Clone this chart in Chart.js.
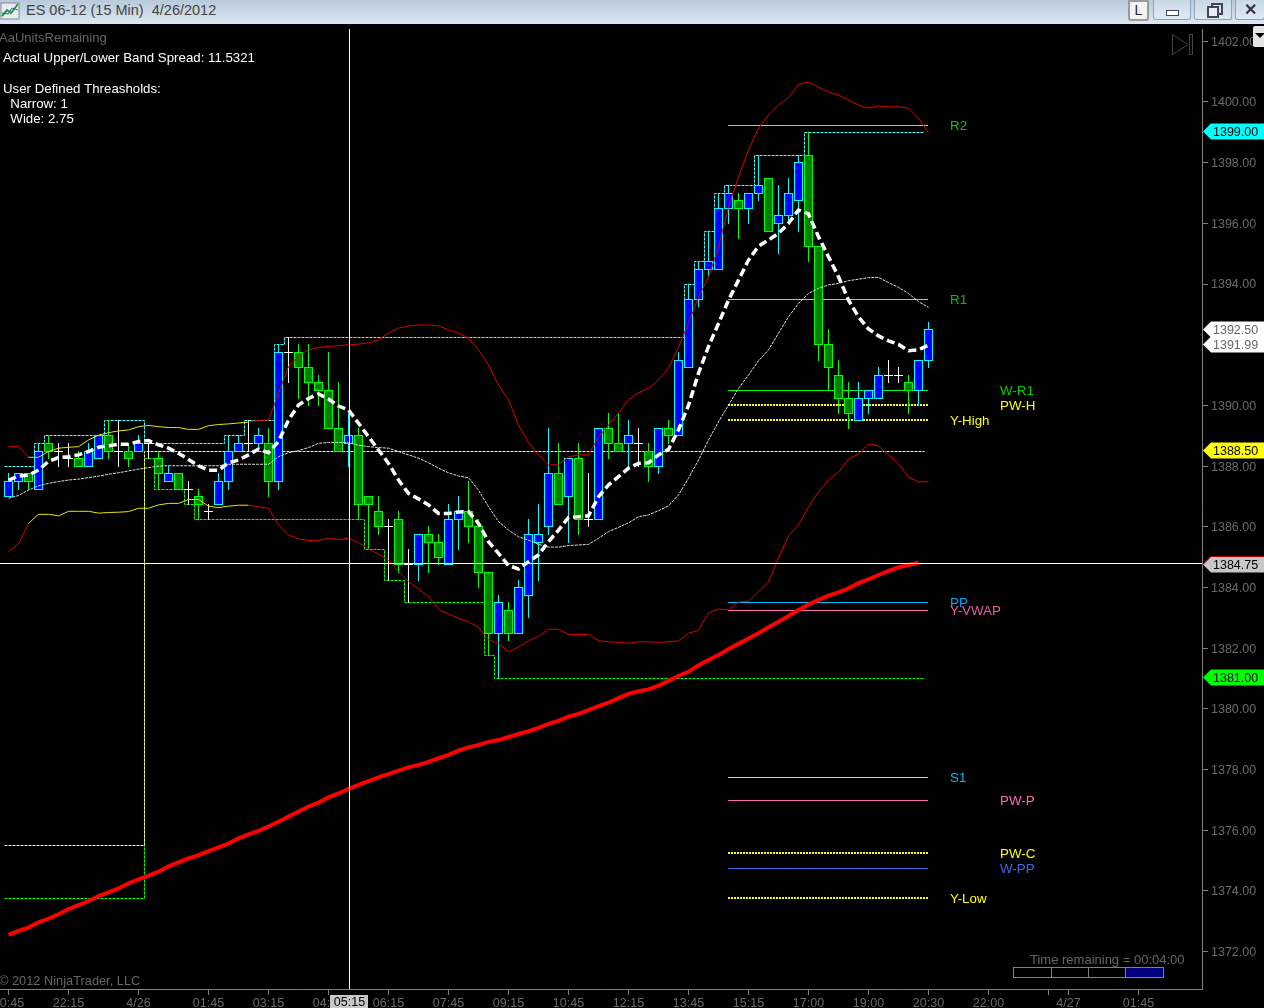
<!DOCTYPE html>
<html>
<head>
<meta charset="utf-8">
<title>ES 06-12 (15 Min)</title>
<script src="https://cdn.jsdelivr.net/npm/chart.js@4/dist/chart.umd.min.js"></script>
<style>
    html, body { margin: 0; padding: 0; background: #000; overflow: hidden; }
    #wrap { position: relative; width: 1264px; height: 1008px; overflow: hidden; font-family: "Liberation Sans", Arial, sans-serif; }
    #priceChart { position: absolute; left: 0; top: 0; }
    #titlebar { position: absolute; left: 0; top: 0; width: 1264px; height: 24px; background: linear-gradient(#b7c9da, #dce8f3); }
    #titlebar svg { position: absolute; left: 0; top: 1px; }
    #titletext { position: absolute; left: 26px; top: 2px; font-size: 14.5px; color: #444; white-space: pre; }
    .btn { position: absolute; top: 0; height: 20px; box-sizing: border-box; border: 1px solid #8fa3b8; border-top: none; border-radius: 0 0 3px 3px; background: linear-gradient(#c9d8e6, #dfe9f3); color: #223; text-align: center; }
    #btnL { left: 1128px; width: 21px; height: 21px; background: #f2f2ee; border: 2px solid #9a9a9a; font-size: 14px; line-height: 17px; }
    #btnMin { left: 1153px; width: 38px; }
    #btnMin i { position: absolute; left: 12px; top: 10px; width: 11px; height: 4px; background: #fff; border: 1px solid #445; }
    #btnMax { left: 1194px; width: 38px; }
    #btnMax i { position: absolute; left: 12px; top: 6px; width: 8px; height: 8px; border: 2px solid #445; background: #e6eef6; }
    #btnMax b { position: absolute; left: 16px; top: 3px; width: 8px; height: 8px; border: 2px solid #445; }
    #btnClose { left: 1235px; width: 30px; font-size: 16px; font-weight: bold; line-height: 19px; color: #334; }
    #dropdown { position: absolute; left: 1253px; top: 26px; width: 11px; height: 21px; background: #e4e4e4; border-radius: 2px 0 0 2px; }
    #dropdown i { position: absolute; left: 2px; top: 7px; width: 0; height: 0; border-left: 5px solid transparent; border-right: 5px solid transparent; border-top: 5px solid #000; }
</style>
</head>
<body>
<div id="wrap">
    <canvas id="priceChart" width="1264" height="1008"></canvas>
    <div id="titlebar">
        <svg width="22" height="20"><rect x="1" y="2" width="18" height="16" fill="#e8eef0" stroke="#889"/><path d="M2 15 L7 9 L11 12 L18 3" stroke="#2a9a3a" stroke-width="2" fill="none"/><path d="M2 12 L8 13 L12 7 L18 9" stroke="#3366cc" stroke-width="1" fill="none"/></svg>
        <div id="titletext">ES 06-12 (15 Min)  4/26/2012</div>
        <div class="btn" id="btnL">L</div>
        <div class="btn" id="btnMin"><i></i></div>
        <div class="btn" id="btnMax"><b></b><i></i></div>
        <div class="btn" id="btnClose">✕</div>
    </div>
    <div id="dropdown"><i></i></div>
</div>
<script>
const openPrices = [
    1387, 1387.5, 1387.75, 1387.25, 1388.75, 1388.5, 1388.25, 1388.25, 1388, 1388.25,
    1389, 1388.5, 1388.5, 1388.5, 1388.75, 1388.25, 1387.5, 1387.75, 1387.25, 1387,
    1386.5, 1386.75, 1387.5, 1388.5, 1388.75, 1388.75, 1388.75, 1387.5, 1391.75, 1391.75,
    1391.25, 1390.75, 1390.5, 1389.25, 1388.75, 1389, 1387, 1386.5, 1386, 1386.25,
    1384.75, 1384.75, 1385.75, 1385.5, 1384.75, 1386.25, 1386.5, 1386, 1384.5, 1382.5,
    1383.25, 1382.5, 1383.75, 1385.5, 1386, 1387.75, 1387, 1388.25, 1386.25, 1386.25,
    1389.25, 1388.75, 1388.75, 1388.75, 1388.5, 1388, 1389.25, 1389, 1391.25, 1393.5,
    1394.5, 1394.5, 1396.5, 1396.75, 1396.5, 1397, 1397.5, 1396, 1396.25, 1396.75,
    1398.25, 1395.25, 1392, 1391, 1390.25, 1389.5, 1390.25, 1390.25, 1391, 1391,
    1390.75, 1390.5, 1391.5
];
const highPrices = [
    1387.75, 1387.75, 1387.75, 1388.75, 1389, 1388.75, 1388.75, 1388.5, 1388.75, 1389,
    1389.5, 1389.5, 1388.75, 1389, 1388.75, 1388.5, 1388, 1387.75, 1387.5, 1387.25,
    1386.75, 1387.75, 1389, 1389, 1389.5, 1389.25, 1389.25, 1392, 1392.25, 1392,
    1392, 1391, 1391.75, 1390.75, 1389.75, 1389.25, 1387, 1387, 1386.25, 1386.5,
    1385.25, 1385.75, 1386, 1385.75, 1386.75, 1387, 1387.5, 1386.25, 1384.5, 1383.75,
    1383.5, 1384.25, 1386.25, 1386.75, 1389.25, 1388.75, 1388.25, 1388.75, 1387.75, 1389.25,
    1389.75, 1389.75, 1389.5, 1389.25, 1388.75, 1389.25, 1389.5, 1391.75, 1394, 1394.75,
    1395.75, 1397, 1397.25, 1397, 1397, 1398.25, 1397.5, 1397.25, 1397.5, 1398.25,
    1399, 1395.25, 1392.5, 1391.5, 1390.75, 1390.75, 1390.5, 1391.25, 1391.5, 1391.25,
    1391, 1391.5, 1392.75
];
const lowPrices = [
    1387, 1387.25, 1387.25, 1387.25, 1388.25, 1388, 1388, 1388, 1388, 1388.25,
    1388.25, 1388, 1388, 1388.5, 1388.25, 1387.25, 1387.5, 1387.25, 1386.75, 1386.25,
    1386.25, 1386.75, 1387.25, 1388.5, 1388.5, 1388.5, 1387, 1387.25, 1390.75, 1390.25,
    1390, 1390, 1389.25, 1388.5, 1388, 1386.25, 1385.25, 1385.75, 1384.25, 1384.5,
    1383.5, 1384.25, 1384.5, 1384.75, 1384.75, 1385.25, 1385.5, 1384, 1381.75, 1381,
    1382.25, 1382.5, 1383, 1384.25, 1385.75, 1386.75, 1385.5, 1385.75, 1386, 1386.25,
    1388.25, 1388.5, 1388, 1388, 1387.5, 1387.75, 1388.75, 1389, 1391.25, 1393.25,
    1394.25, 1394.5, 1396, 1395.5, 1396, 1396.75, 1395.75, 1395, 1396, 1395.75,
    1394.75, 1391.5, 1390.5, 1389.75, 1389.25, 1389.5, 1389.75, 1390.25, 1390.75, 1390.75,
    1389.75, 1390, 1391.25
];
const closePrices = [
    1387.5, 1387.75, 1387.5, 1388.5, 1388.5, 1388.5, 1388.25, 1388, 1388.5, 1389,
    1388.5, 1388.5, 1388.25, 1388.75, 1388.75, 1387.75, 1387.75, 1387.25, 1387.25, 1386.75,
    1386.5, 1387.5, 1388.5, 1388.75, 1388.75, 1389, 1387.5, 1391.75, 1391.75, 1391.25,
    1390.75, 1390.5, 1389.25, 1388.5, 1389, 1386.75, 1386.75, 1386, 1386, 1384.75,
    1384.75, 1385.75, 1385.5, 1385, 1386.25, 1386.5, 1386, 1384.5, 1382.5, 1383.5,
    1382.5, 1384, 1385.75, 1385.75, 1387.75, 1386.75, 1388.25, 1386.25, 1386.25, 1389.25,
    1388.75, 1388.5, 1389, 1388.75, 1388, 1389.25, 1389, 1391.5, 1393.5, 1394.5,
    1394.75, 1396.5, 1397, 1396.5, 1397, 1397.25, 1395.75, 1396.25, 1397, 1398,
    1395.25, 1392, 1391.25, 1390.25, 1389.75, 1390.25, 1390.5, 1391, 1391, 1391,
    1390.5, 1391.5, 1392.5
];

const upperBand = [
    1388.64, 1388.64, 1388.29, 1388.29, 1388.48, 1388.59, 1388.62, 1388.64, 1388.86, 1389.02,
    1389.10, 1389.16, 1389.19, 1389.30, 1389.34, 1389.30, 1389.27, 1389.27, 1389.21, 1389.21,
    1389.33, 1389.37, 1389.39, 1389.42, 1389.45, 1389.51, 1389.51, 1390.40, 1391.28, 1391.63,
    1391.83, 1391.91, 1391.94, 1391.97, 1392.00, 1392.02, 1392.06, 1392.16, 1392.39, 1392.55,
    1392.62, 1392.65, 1392.65, 1392.62, 1392.49, 1392.39, 1392.22, 1391.83, 1391.33, 1390.67,
    1390.18, 1389.35, 1388.79, 1388.37, 1388.04, 1388.04, 1388.30, 1388.37, 1388.37, 1388.96,
    1389.35, 1389.75, 1390.18, 1390.41, 1390.57, 1390.84, 1391.23, 1391.92, 1392.72, 1393.57,
    1394.23, 1395.22, 1396.54, 1397.53, 1398.42, 1399.14, 1399.57, 1399.90, 1400.13, 1400.59,
    1400.66, 1400.49, 1400.33, 1400.23, 1400.07, 1399.90, 1399.80, 1399.87, 1399.84, 1399.84,
    1399.80, 1399.47, 1398.98
];
const lowerBand = [
    1385.18, 1385.43, 1386.11, 1386.41, 1386.41, 1386.36, 1386.51, 1386.51, 1386.51, 1386.45,
    1386.47, 1386.48, 1386.50, 1386.61, 1386.61, 1386.72, 1386.77, 1386.77, 1386.90, 1386.90,
    1386.68, 1386.63, 1386.68, 1386.71, 1386.71, 1386.66, 1386.61, 1386.06, 1385.73, 1385.60,
    1385.55, 1385.55, 1385.62, 1385.58, 1385.62, 1385.48, 1385.27, 1385.10, 1384.90, 1384.52,
    1384.19, 1383.95, 1383.70, 1383.28, 1383.13, 1382.98, 1382.87, 1382.69, 1382.27, 1382.16,
    1381.88, 1382.03, 1382.25, 1382.38, 1382.62, 1382.62, 1382.45, 1382.45, 1382.45, 1382.25,
    1382.21, 1382.19, 1382.16, 1382.21, 1382.21, 1382.19, 1382.21, 1382.24, 1382.49, 1382.59,
    1383.16, 1383.29, 1383.26, 1383.52, 1383.55, 1383.85, 1384.18, 1384.97, 1385.70, 1386.06,
    1386.65, 1387.15, 1387.54, 1387.80, 1388.23, 1388.40, 1388.73, 1388.66, 1388.37, 1388.07,
    1387.64, 1387.48, 1387.48
];
const midBand = [
    1386.94, 1387.03, 1387.21, 1387.35, 1387.43, 1387.49, 1387.54, 1387.57, 1387.62, 1387.67,
    1387.73, 1387.78, 1387.84, 1387.90, 1387.95, 1388.00, 1388.01, 1388.01, 1388.01, 1388.01,
    1388.01, 1388.01, 1388.06, 1388.06, 1388.06, 1388.06, 1388.06, 1388.31, 1388.44, 1388.51,
    1388.61, 1388.75, 1388.78, 1388.78, 1388.77, 1388.69, 1388.64, 1388.61, 1388.59, 1388.48,
    1388.37, 1388.26, 1388.11, 1387.93, 1387.78, 1387.67, 1387.62, 1387.21, 1386.66, 1386.17,
    1385.89, 1385.67, 1385.56, 1385.42, 1385.33, 1385.33, 1385.38, 1385.40, 1385.42, 1385.62,
    1385.84, 1385.98, 1386.13, 1386.33, 1386.39, 1386.53, 1386.69, 1387.05, 1387.60, 1388.20,
    1388.86, 1389.46, 1390.01, 1390.56, 1391.00, 1391.47, 1391.83, 1392.38, 1392.92, 1393.36,
    1393.69, 1393.86, 1393.97, 1394.02, 1394.11, 1394.16, 1394.21, 1394.22, 1394.05, 1393.89,
    1393.69, 1393.42, 1393.23
];
const fastAverage = [
    1387.54, 1387.67, 1387.70, 1387.87, 1388.15, 1388.28, 1388.31, 1388.37, 1388.48, 1388.62,
    1388.67, 1388.72, 1388.72, 1388.81, 1388.84, 1388.70, 1388.59, 1388.42, 1388.22, 1388.01,
    1387.86, 1387.86, 1388.11, 1388.20, 1388.37, 1388.56, 1388.44, 1388.81, 1389.52, 1390.01,
    1390.23, 1390.38, 1390.21, 1389.98, 1389.85, 1389.41, 1388.97, 1388.53, 1388.09, 1387.54,
    1387.10, 1386.92, 1386.72, 1386.44, 1386.44, 1386.49, 1386.50, 1386.11, 1385.51, 1385.12,
    1384.72, 1384.61, 1384.85, 1385.07, 1385.51, 1385.89, 1386.31, 1386.33, 1386.36, 1386.99,
    1387.38, 1387.65, 1387.93, 1388.09, 1388.11, 1388.37, 1388.55, 1389.20, 1390.00, 1391.06,
    1391.94, 1392.70, 1393.47, 1394.13, 1394.79, 1395.25, 1395.45, 1395.67, 1396.00, 1396.44,
    1396.31, 1395.56, 1394.90, 1394.24, 1393.47, 1392.92, 1392.52, 1392.29, 1392.13, 1392.01,
    1391.80, 1391.83, 1391.99
];
const slowAverage = [
    1372.55, 1372.68, 1372.79, 1372.96, 1373.08, 1373.23, 1373.40, 1373.53, 1373.66, 1373.83,
    1373.95, 1374.08, 1374.25, 1374.38, 1374.50, 1374.63, 1374.81, 1374.94, 1375.07, 1375.18,
    1375.31, 1375.43, 1375.56, 1375.73, 1375.86, 1375.98, 1376.12, 1376.28, 1376.45, 1376.61,
    1376.78, 1376.91, 1377.08, 1377.21, 1377.36, 1377.49, 1377.62, 1377.74, 1377.85, 1377.96,
    1378.07, 1378.15, 1378.25, 1378.37, 1378.48, 1378.62, 1378.73, 1378.81, 1378.91, 1378.97,
    1379.07, 1379.17, 1379.26, 1379.37, 1379.50, 1379.60, 1379.74, 1379.83, 1379.96, 1380.09,
    1380.20, 1380.35, 1380.49, 1380.58, 1380.64, 1380.76, 1380.92, 1381.09, 1381.22, 1381.44,
    1381.61, 1381.77, 1381.97, 1382.14, 1382.32, 1382.49, 1382.69, 1382.87, 1383.06, 1383.26,
    1383.44, 1383.59, 1383.73, 1383.84, 1383.97, 1384.14, 1384.27, 1384.41, 1384.55, 1384.66,
    1384.74, 1384.82
];

const highStepBars = [-0.5, 2.5, 3.5, 9.5, 13.5, 21.5, 23.5, 26.5, 27.5, 67.5, 68.5, 69.5, 70.5, 71.5, 74.5, 79.5, 91.5];
const highStepLevels = [1388, 1388.75, 1389, 1389.5, 1388.75, 1389, 1389.5, 1392, 1392.25, 1394, 1394.75, 1395.75, 1397, 1397.25, 1398.25, 1399, 1399];
const lowStepBars = [-0.5, 13.5, 14.5, 17.5, 18.5, 35.5, 37.5, 39.5, 47.5, 48.5, 91.5];
const lowStepLevels = [1373.75, 1388.25, 1387.25, 1386.75, 1386.25, 1385.25, 1384.25, 1383.5, 1381.75, 1381, 1381];
const closeStepBars = [-0.5, 13.5, 91.5];
const closeStepLevels = [1375.5, 1388.5, 1388.5];

const pivotNames = ['R2', 'R1', 'W-R1', 'PW-H', 'Y-High', 'PP', 'Y-VWAP', 'S1', 'PW-P', 'PW-C', 'W-PP', 'Y-Low'];
const pivotPrices = [1399.23, 1393.5, 1390.5, 1390, 1389.5, 1383.5, 1383.25, 1377.75, 1377, 1375.25, 1374.75, 1373.75];

const priceTicks = [1372, 1374, 1376, 1378, 1380, 1382, 1384, 1386, 1388, 1390, 1392, 1394, 1396, 1398, 1400, 1402];
const timeTickBars = [0, 6, 13, 20, 26, 32, 38, 44, 50, 56, 62, 68, 74, 80, 86, 92, 98, 104, 106, 113];
const timeTickLabels = ['20:45', '22:15', '4/26', '01:45', '03:15', '04:45', '06:15', '07:45', '09:15', '10:45', '12:15', '13:45', '15:15', '17:00', '19:00', '20:30', '22:00', '', '4/27', '01:45'];

const tagPrices = [1399, 1392.5, 1391.99, 1388.5, 1384.75, 1381];
const crossBar = 34.1;
const crossPrice = 1384.75;
const crossLevel = 1384.78;
const crossTime = '05:15';

// line colour, label colour, label x, dotted
const pivotStyles = {
    'R2': ['#70f070', '#00c800', 950, false],
    'R1': ['#70f070', '#00c800', 950, false],
    'W-R1': ['#00ff00', '#00d000', 1000, false],
    'PW-H': ['#ffff00', '#ffff00', 1000, true],
    'Y-High': ['#ffff00', '#ffff00', 950, true],
    'PP': ['#00bfff', '#00a8ff', 950, false],
    'Y-VWAP': ['#ff69b4', '#e0609f', 950, false],
    'S1': ['#ffb6c1', '#00bfff', 950, false],
    'PW-P': ['#ff69b4', '#ff69b4', 1000, false],
    'PW-C': ['#ffff00', '#ffff00', 1000, true],
    'W-PP': ['#4169e1', '#4169e1', 1000, false],
    'Y-Low': ['#ffff00', '#ffff00', 950, true]
};
const tagStyles = [
    ['#00ffff', '#000'], ['#ffffff', '#666'], ['#ffffff', '#666'],
    ['#ffff00', '#000'], ['#c8c8c8', '#000'], ['#00ff00', '#000']
];

const FONT = '"Liberation Sans", Arial, sans-serif';
const GREY = '#6a6a6a';
const PRICE_MIN = 1370.765;
const PRICE_MAX = 1402.406;
const BAR_MIN = -0.85;
const BAR_MAX = 119.35;

function toPoints(values) {
    return values.map((v, i) => ({ x: i, y: v }));
}

function stepPoints(bars, levels) {
    return bars.map((b, i) => ({ x: b, y: levels[i] }));
}

function candleDatasets() {
    const bars = openPrices.map((o, i) => i);
    const ups = bars.filter(i => closePrices[i] > openPrices[i]);
    const downs = bars.filter(i => closePrices[i] < openPrices[i]);
    const flats = bars.filter(i => closePrices[i] === openPrices[i]);
    const wick = (list, color) => ({
        type: 'bar', order: 6, snap: true, grouped: false, barThickness: 1, inflateAmount: 0,
        backgroundColor: color, borderWidth: 0,
        data: list.map(i => ({ x: i, y: [lowPrices[i], highPrices[i]] }))
    });
    const body = (list, fill, edge) => ({
        type: 'bar', order: 5, snap: true, grouped: false, barThickness: 9, inflateAmount: 0,
        backgroundColor: fill, borderColor: edge, borderWidth: 1, borderSkipped: false,
        data: list.map(i => ({ x: i, y: [openPrices[i], closePrices[i]] }))
    });
    return [
        wick(ups, '#00ffff'), wick(downs, '#00ff00'), wick(flats, '#ffffff'),
        body(ups, '#0000ff', '#00ffff'), body(downs, '#008000', '#00ff00'),
        {
            type: 'line', order: 5, snap: true, showLine: false, pointStyle: 'line', pointRadius: 4.5,
            pointBorderColor: '#ffffff', pointBorderWidth: 1,
            data: flats.map(i => ({ x: i, y: closePrices[i] }))
        }
    ];
}

function stepDataset(bars, levels, color) {
    return {
        type: 'line', order: 8, snap: true, stepped: true, borderColor: color, borderWidth: 1,
        borderDash: [3, 1], pointRadius: 0, data: stepPoints(bars, levels)
    };
}

function pivotDatasets() {
    return pivotNames.map((name, i) => {
        const st = pivotStyles[name];
        return {
            type: 'line', order: 7, snap: true, borderColor: st[0], borderWidth: st[3] ? 2 : 1,
            borderDash: st[3] ? [2, 1] : [], pointRadius: 0,
            data: [{ x: 71.95, y: pivotPrices[i] }, { x: 91.95, y: pivotPrices[i] }]
        };
    });
}

function bandDataset(values) {
    return {
        type: 'line', order: 3, borderColor: '#e00000', borderWidth: 1, pointRadius: 0,
        segment: {
            // narrow part of the band is painted yellow
            borderColor: c => (c.p0DataIndex >= 2 && c.p0DataIndex < 24) ? '#e8e800' : '#e00000'
        },
        data: toPoints(values)
    };
}

// the platform draws level lines and candles on whole pixels
const snapPlugin = {
    id: 'snap',
    afterDatasetsUpdate(chart) {
        chart.data.datasets.forEach((ds, i) => {
            if (!ds.snap) return;
            chart.getDatasetMeta(i).data.forEach(el => {
                if (ds.type === 'bar') {
                    const top = Math.min(el.y, el.base);
                    const bottom = Math.max(el.y, el.base);
                    el.y = Math.round(top - 0.3);
                    el.base = Math.round(bottom - 0.3) + 1;
                } else if (ds.borderWidth === 2) {
                    el.y = Math.round(el.y - 0.3);
                } else {
                    el.y = Math.round(el.y - 0.3) + 0.5;
                    if (ds.stepped) el.x = Math.round(el.x) + 0.5;
                }
            });
        });
    }
};

const overlayPlugin = {
    id: 'overlay',
    afterDraw(chart) {
        const ctx = chart.ctx;
        const y = chart.scales.y;
        const x = chart.scales.x;
        ctx.save();
        ctx.textBaseline = 'middle';

        // pivot names
        ctx.font = '13.33px ' + FONT;
        pivotNames.forEach((name, i) => {
            ctx.fillStyle = pivotStyles[name][1];
            ctx.fillText(name, pivotStyles[name][2], y.getPixelForValue(pivotPrices[i]) + 1);
        });

        // price tags on the axis
        ctx.font = '12.5px ' + FONT;
        tagPrices.forEach((p, i) => {
            const py = Math.floor(y.getPixelForValue(p) - 0.5) + 0.5;
            ctx.beginPath();
            ctx.moveTo(1203, py);
            ctx.lineTo(1211, py - 8);
            ctx.lineTo(1264, py - 8);
            ctx.lineTo(1264, py + 8);
            ctx.lineTo(1211, py + 8);
            ctx.closePath();
            ctx.fillStyle = tagStyles[i][0];
            ctx.fill();
            if (p === crossPrice) {
                ctx.strokeStyle = '#c00000';
                ctx.beginPath();
                ctx.moveTo(1203, py);
                ctx.lineTo(1211, py - 8);
                ctx.lineTo(1264, py - 8);
                ctx.stroke();
            }
            ctx.fillStyle = tagStyles[i][1];
            ctx.fillText(p.toFixed(2), 1213, py + 1);
        });

        // crosshair time
        ctx.fillStyle = '#c8c8c8';
        ctx.fillRect(330, 995, 38, 13);
        ctx.fillStyle = '#000';
        ctx.textAlign = 'center';
        ctx.font = '12.5px ' + FONT;
        ctx.fillText(crossTime, x.getPixelForValue(crossBar), 1002.5);
        ctx.textAlign = 'left';

        // indicator text
        ctx.fillStyle = '#666';
        ctx.font = '13px ' + FONT;
        ctx.fillText('AaUnitsRemaining', -1, 38);
        ctx.fillStyle = '#fff';
        ctx.font = '13.28px ' + FONT;
        ctx.fillText('Actual Upper/Lower Band Spread: 11.5321', 3, 58);
        ctx.fillText('User Defined Threasholds:', 3, 89);
        ctx.fillText('  Narrow: 1', 3, 104);
        ctx.fillText('  Wide: 2.75', 3, 119);

        ctx.fillStyle = '#666';
        ctx.font = '12.8px ' + FONT;
        ctx.fillText('© 2012 NinjaTrader, LLC', -1, 981.5);
        ctx.font = '13px ' + FONT;
        ctx.fillText('Time remaining = 00:04:00', 1030, 960.5);

        // bar timer
        ctx.fillStyle = '#000080';
        ctx.fillRect(1125, 967, 38, 10);
        ctx.strokeStyle = '#808080';
        ctx.lineWidth = 1;
        ctx.strokeRect(1013.5, 967.5, 150, 10);
        [1051.5, 1088.5, 1125.5].forEach(px => {
            ctx.beginPath();
            ctx.moveTo(px, 967.5);
            ctx.lineTo(px, 977.5);
            ctx.stroke();
        });

        // playback icon
        ctx.strokeStyle = '#444';
        ctx.beginPath();
        ctx.moveTo(1172.5, 34.5);
        ctx.lineTo(1172.5, 54.5);
        ctx.lineTo(1188, 44.5);
        ctx.closePath();
        ctx.stroke();
        ctx.strokeRect(1189.5, 34.5, 3, 20);
        ctx.restore();
    }
};

function drawChart() {
    const ctx = document.getElementById('priceChart').getContext('2d');
    new Chart(ctx, {
        type: 'line',
        plugins: [snapPlugin, overlayPlugin],
        data: {
            datasets: [
                stepDataset(closeStepBars, closeStepLevels, '#ffff60'),
                stepDataset(lowStepBars, lowStepLevels, '#00ff00'),
                stepDataset(highStepBars, highStepLevels, '#50ffff'),
                ...pivotDatasets(),
                ...candleDatasets(),
                bandDataset(upperBand),
                bandDataset(lowerBand),
                { type: 'line', order: 3, borderColor: '#e0e0e0', borderWidth: 1, borderDash: [3, 1], pointRadius: 0, data: toPoints(midBand) },
                { type: 'line', order: 2, borderColor: '#ff0000', borderWidth: 4, pointRadius: 0, data: toPoints(slowAverage) },
                { type: 'line', order: 1, borderColor: '#ffffff', borderWidth: 3.5, borderDash: [8, 4], pointRadius: 0, data: toPoints(fastAverage) },
                { type: 'line', order: 0, borderColor: '#ffffff', borderWidth: 1, pointRadius: 0, data: [{ x: crossBar, y: PRICE_MIN }, { x: crossBar, y: PRICE_MAX }] },
                { type: 'line', order: 0, snap: true, borderColor: '#ffffff', borderWidth: 1, pointRadius: 0, data: [{ x: BAR_MIN, y: crossLevel }, { x: BAR_MAX, y: crossLevel }] }
            ]
        },
        options: {
            responsive: false,
            animation: false,
            devicePixelRatio: 1,
            layout: { autoPadding: false, padding: { top: 29, left: 0, right: 0, bottom: 0 } },
            plugins: { legend: { display: false }, tooltip: { enabled: false } },
            events: [],
            scales: {
                x: {
                    type: 'linear',
                    offset: false,
                    min: BAR_MIN,
                    max: BAR_MAX,
                    afterBuildTicks: s => { s.ticks = timeTickBars.map(v => ({ value: v })); },
                    afterFit: s => { s.paddingLeft = 0; s.paddingRight = 0; s.height = 19; },
                    grid: { offset: false, drawOnChartArea: false, tickColor: '#808080', tickLength: 6 },
                    border: { color: '#808080', width: 1 },
                    ticks: {
                        autoSkip: false, maxRotation: 0, minRotation: 0, padding: 1,
                        color: GREY, font: { family: FONT, size: 12.5 },
                        callback: (v, i) => timeTickLabels[i]
                    }
                },
                y: {
                    position: 'right',
                    beginAtZero: false,
                    min: PRICE_MIN,
                    max: PRICE_MAX,
                    afterBuildTicks: s => { s.ticks = priceTicks.map(v => ({ value: v })); },
                    afterFit: s => { s.width = 62; s.paddingTop = 0; s.paddingBottom = 0; },
                    grid: { drawOnChartArea: false, tickColor: '#808080', tickLength: 6 },
                    border: { color: '#808080', width: 1 },
                    ticks: {
                        padding: 3, labelOffset: 1, color: GREY, font: { family: FONT, size: 12.5 },
                        callback: v => v.toFixed(2)
                    }
                }
            }
        }
    });
}

drawChart();
</script>
</body>
</html>
